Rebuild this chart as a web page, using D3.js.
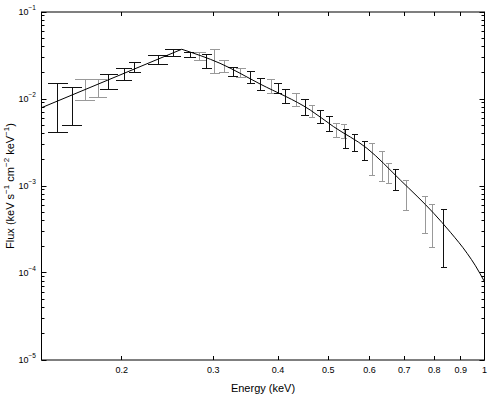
<!DOCTYPE html>
<html>
<head>
<meta charset="utf-8">
<script src="https://cdn.jsdelivr.net/npm/d3@7"></script>
<style>
    body { margin: 0; background: #fff; }
    text { font-family: "Liberation Sans", Arial, sans-serif; }
</style>
</head>
<body>
<svg width="491" height="397"></svg>
<script>
// model curve (keV, flux); index 1 is the break
var modelE = [0.14, 0.2609, 0.3092, 0.3694, 0.4614, 0.5118, 0.5937, 0.6884, 0.7984, 0.8596, 0.926, 0.9608, 1.0];
var modelF = [0.00794, 0.0373, 0.02572, 0.01487, 0.00747, 0.00481, 0.00271, 0.00117, 0.000485, 0.000294, 0.000168, 0.000121, 0.0000794];

// data points: energy, half bin width, flux lower / upper, dataset
var dataE = [0.1505, 0.1604, 0.1702, 0.1800, 0.1888, 0.2021, 0.2120, 0.2348, 0.2513, 0.2707,
    0.2829, 0.2915, 0.3021, 0.3151, 0.3281, 0.3391, 0.3545, 0.3706, 0.3880, 0.4008,
    0.4142, 0.4336, 0.4513, 0.4651, 0.4825, 0.5027, 0.5194, 0.5366, 0.5397, 0.5618,
    0.5873, 0.6070, 0.6346, 0.6535, 0.6743, 0.7061, 0.7695, 0.7924, 0.8344];
var dataDE = [0.0067, 0.0071, 0.0076, 0.0072, 0.0075, 0.0072, 0.0057, 0.0104, 0.0089, 0.0072,
    0.0075, 0.0065, 0.0067, 0.0070, 0.0073, 0.0075, 0.0063, 0.0066, 0.0069, 0.0071,
    0.0074, 0.0077, 0.0080, 0.0072, 0.0075, 0.0078, 0.0081, 0.0072, 0.0072, 0.0075,
    0.0078, 0.0081, 0.0085, 0.0087, 0.0090, 0.0094, 0.0103, 0.0106, 0.0111];
var dataLo = [0.004157, 0.00491, 0.00951, 0.01049, 0.01296, 0.01614, 0.02031, 0.02483, 0.0310, 0.02963,
    0.0279, 0.02216, 0.01942, 0.02009, 0.01808, 0.0178, 0.01518, 0.01248, 0.01166, 0.01144,
    0.00895, 0.00818, 0.0064, 0.00618, 0.00518, 0.00419, 0.00364, 0.00351, 0.00272, 0.00249,
    0.00195, 0.00132, 0.001126, 0.00108, 0.000881, 0.000523, 0.000288, 0.000194, 0.000116];
var dataHi = [0.01502, 0.01362, 0.01657, 0.0167, 0.01891, 0.02216, 0.02646, 0.03168, 0.03692, 0.03446,
    0.0341, 0.03209, 0.03662, 0.0276, 0.02276, 0.02216, 0.02064, 0.01733, 0.01657, 0.01491,
    0.01272, 0.01144, 0.00977, 0.0084, 0.0073, 0.00628, 0.00528, 0.00514, 0.00442, 0.0039,
    0.00322, 0.00311, 0.00249, 0.00183, 0.001563, 0.001156, 0.000757, 0.000608, 0.000533];
var dataSet = [0, 0, 1, 1, 0, 0, 0, 0, 0, 0,
    1, 0, 1, 1, 0, 1, 0, 0, 1, 0,
    0, 1, 0, 1, 0, 0, 1, 1, 0, 0,
    0, 1, 1, 1, 0, 1, 1, 1, 0];

var xTicks = [0.2, 0.3, 0.4, 0.5, 0.6, 0.7, 0.8, 0.9, 1];
var yTicks = [1e-5, 1e-4, 1e-3, 1e-2, 1e-1];

var svg = d3.select("svg"),
    margin = {top: 12, right: 7, bottom: 37, left: 41},
    width = +svg.attr("width") - margin.left - margin.right,
    height = +svg.attr("height") - margin.top - margin.bottom,
    g = svg.append("g").attr("transform", "translate(" + margin.left + "," + margin.top + ")");

var x = d3.scaleLog().domain([0.14, 1]).range([0.5, width + 0.5]);
var y = d3.scaleLog().domain([1e-5, 1e-1]).range([height, 0]);

var setColor = ["#111", "#999"];

function px(v) { return Math.round(v - 0.5) + 0.5; }

// minor y ticks
var yMinor = [];
yTicks.slice(0, -1).forEach(function (d) {
    for (var k = 2; k <= 9; k++) yMinor.push(d * k);
});

// frame
g.append("rect")
    .attr("x", x.range()[0]).attr("y", 0)
    .attr("width", x.range()[1] - x.range()[0]).attr("height", height)
    .attr("fill", "none").attr("stroke", "#000").attr("stroke-width", 1);

// x ticks top and bottom (inward)
xTicks.forEach(function (t) {
    var xx = px(x(t));
    g.append("line").attr("x1", xx).attr("x2", xx).attr("y1", height).attr("y2", height - 4)
        .attr("stroke", "#000");
    g.append("line").attr("x1", xx).attr("x2", xx).attr("y1", 0).attr("y2", 4)
        .attr("stroke", "#000");
    g.append("text")
        .attr("x", x(t)).attr("y", height + 13)
        .attr("text-anchor", "middle")
        .attr("font-size", 9)
        .text(d3.format("")(t));
});

// y ticks left and right
var x0 = x.range()[0], x1 = x.range()[1];
yTicks.forEach(function (t) {
    var yy = px(y(t));
    g.append("line").attr("x1", x0).attr("x2", x0 + 5).attr("y1", yy).attr("y2", yy).attr("stroke", "#000");
    g.append("line").attr("x1", x1).attr("x2", x1 - 5).attr("y1", yy).attr("y2", yy).attr("stroke", "#000");
    var lab = g.append("text")
        .attr("x", -5).attr("y", y(t) + 3)
        .attr("text-anchor", "end")
        .attr("font-size", 9);
    lab.append("tspan").text("10");
    lab.append("tspan").attr("dy", -5).attr("font-size", 6.5).text("\u2212" + Math.round(-Math.log10(t)));
});
yMinor.forEach(function (t) {
    var yy = px(y(t));
    g.append("line").attr("x1", x0).attr("x2", x0 + 3).attr("y1", yy).attr("y2", yy).attr("stroke", "#000");
    g.append("line").attr("x1", x1).attr("x2", x1 - 3).attr("y1", yy).attr("y2", yy).attr("stroke", "#000");
});

// error bars
var bars = g.append("g");
dataE.forEach(function (e, i) {
    var c = setColor[dataSet[i]];
    var xc = px(x(e)), xl = Math.round(x(e - dataDE[i])), xr = Math.round(x(e + dataDE[i]));
    var yt = px(y(dataHi[i])), yb = px(y(dataLo[i]));
    bars.append("line").attr("x1", xc).attr("x2", xc).attr("y1", yt).attr("y2", yb)
        .attr("stroke", c).attr("stroke-width", 1);
    [yt, yb].forEach(function (yy) {
        bars.append("line").attr("x1", xl).attr("x2", xr).attr("y1", yy).attr("y2", yy)
            .attr("stroke", c).attr("stroke-width", 1);
    });
});

// model: straight rise to the break, smooth fall after it
var model = modelE.map(function (e, i) {
    return {E: e, F: modelF[i]};
});
var lineLow = d3.line()
    .x(function (d) { return x(d.E); })
    .y(function (d) { return y(d.F); });
var lineHigh = d3.line()
    .x(function (d) { return x(d.E); })
    .y(function (d) { return y(d.F); })
    .curve(d3.curveMonotoneX);

g.append("path")
    .datum(model.slice(0, 2))
    .attr("fill", "none")
    .attr("stroke", "#000")
    .attr("stroke-width", 1)
    .attr("d", lineLow);
g.append("path")
    .datum(model.slice(1))
    .attr("fill", "none")
    .attr("stroke", "#000")
    .attr("stroke-width", 1)
    .attr("d", lineHigh);

// axis titles
g.append("text")
    .attr("x", (x0 + x1) / 2).attr("y", height + 32)
    .attr("text-anchor", "middle")
    .attr("font-size", 11)
    .text("Energy (keV)");

var yl = g.append("text")
    .attr("transform", "translate(" + (-27) + "," + (height / 2) + ") rotate(-90)")
    .attr("text-anchor", "middle")
    .attr("font-size", 11);
yl.append("tspan").text("Flux (keV s");
yl.append("tspan").attr("dy", -5).attr("font-size", 8).text("\u22121");
yl.append("tspan").attr("dy", 5).text(" cm");
yl.append("tspan").attr("dy", -5).attr("font-size", 8).text("\u22122");
yl.append("tspan").attr("dy", 5).text(" keV");
yl.append("tspan").attr("dy", -5).attr("font-size", 8).text("\u22121");
yl.append("tspan").attr("dy", 5).text(")");
</script>
</body>
</html>
